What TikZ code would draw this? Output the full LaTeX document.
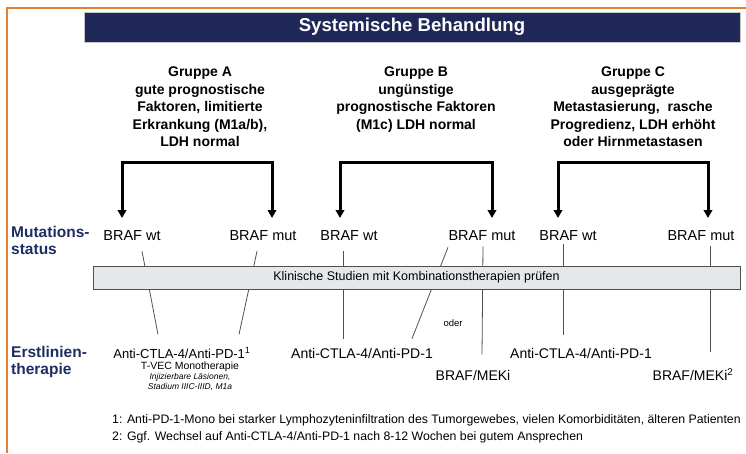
\documentclass[tikz,border=0pt]{standalone}
\usepackage{fontspec}
\setmainfont{Liberation Sans}
\usetikzlibrary{arrows.meta, positioning, calc}
\definecolor{titlebg}{RGB}{31, 40, 88}
\definecolor{frameorange}{RGB}{228, 128, 48}
\definecolor{labelblue}{RGB}{30, 44, 98}
\definecolor{studybg}{RGB}{229, 232, 234}
\definecolor{linegray}{RGB}{80, 80, 80}

\begin{document}
\begin{tikzpicture}[
        x=1pt, y=-1pt,
        group/.style={align=center, inner sep=0pt, anchor=north,
                      font=\fontsize{14}{17.5}\selectfont\bfseries},
        status/.style={inner sep=1pt, font=\fontsize{14.5}{16}\selectfont},
        therapy/.style={inner sep=1pt, font=\fontsize{14}{16}\selectfont},
        rowlabel/.style={anchor=north west, align=left, inner sep=0pt, text=labelblue,
                         font=\fontsize{15.5}{17}\selectfont\bfseries},
        branch/.style={-{Triangle[length=8pt, width=8.5pt]}, line width=3pt},
        link/.style={linegray, line width=0.8pt},
        footnote/.style={anchor=west, inner sep=0pt, font=\fontsize{12.3}{14}\selectfont},
    ]
        \useasboundingbox (0,0) rectangle (746,453);
        \draw[frameorange, line width=2.2pt] (7,453) -- (7,8) -- (746,8);

        \node[fill=titlebg, draw=gray!45, minimum width=656pt, minimum height=30pt,
              text=white, font=\fontsize{18.6}{20}\selectfont\bfseries] (title) at (412,27) {Systemische Behandlung};

        \node[group] (grpA) at (200,67) {Gruppe A\\gute prognostische\\Faktoren, limitierte\\Erkrankung (M1a/b),\\LDH normal};
        \node[group] (grpB) at (416,67) {Gruppe B\\ungünstige\\prognostische Faktoren\\(M1c) LDH normal};
        \node[group] (grpC) at (633,67) {Gruppe C\\ausgeprägte\\Metastasierung,~ rasche\\Progredienz, LDH erhöht\\oder Hirnmetastasen};

        % Verzweigungen
        \coordinate (topA) at (197,162);
        \coordinate (topB) at (416,162);
        \coordinate (topC) at (633,162);
        \coordinate (tipA1) at (122,218);
        \coordinate (tipA2) at (272,218);
        \coordinate (tipB1) at (340,218);
        \coordinate (tipB2) at (492,218);
        \coordinate (tipC1) at (558,218);
        \coordinate (tipC2) at (708,218);
        \draw[branch] (topA) -| (tipA1);
        \draw[branch] (topA) -| (tipA2);
        \draw[branch] (topB) -| (tipB1);
        \draw[branch] (topB) -| (tipB2);
        \draw[branch] (topC) -| (tipC1);
        \draw[branch] (topC) -| (tipC2);

        \node[rowlabel] (mutlabel) at (11,226) {Mutations-\\status};
        \node[rowlabel] (thlabel) at (11,346) {Erstlinien-\\therapie};

        \node[status] (awt) at (132,236) {BRAF wt};
        \node[status] (amut) at (263,236) {BRAF mut};
        \node[status] (bwt) at (349,236) {BRAF wt};
        \node[status] (bmut) at (482,236) {BRAF mut};
        \node[status] (cwt) at (568,236) {BRAF wt};
        \node[status] (cmut) at (701,236) {BRAF mut};

        \node[therapy, font=\fontsize{13}{15}\selectfont] (thA) at (182,353) {Anti-CTLA-4/Anti-PD-1\textsuperscript{1}};
        \node[align=center, inner sep=0pt, font=\fontsize{10.5}{11}\selectfont] (tvec) at (190,366.5) {T-VEC Monotherapie};
        \node[align=center, inner sep=0pt, font=\fontsize{8.5}{10}\selectfont\itshape, below=1.5pt of tvec] (tvecnote) {Injizierbare Läsionen,\\Stadium IIIC-IIID, M1a};
        \node[therapy] (thB) at (362,353) {Anti-CTLA-4/Anti-PD-1};
        \node[therapy] (mekB) at (473,375) {BRAF/MEKi};
        \node[therapy] (thC) at (581,353) {Anti-CTLA-4/Anti-PD-1};
        \node[therapy] (mekC) at (693,375) {BRAF/MEKi\textsuperscript{2}};
        \node[font=\fontsize{9.5}{11}\selectfont] (oder) at (453,323) {oder};

        \draw[link] ($(awt.south)+(10,9)$) -- ($(thA.north)+(-24,-12)$);
        \draw[link] ($(amut.south)+(-6,9)$) -- ($(thA.north)+(57,-12)$);
        \draw[link] ($(bwt.south)+(-6,9)$) -- ($(thB.north)+(-19,-8)$);
        \draw[link] ($(bmut.south)+(-34,5)$) -- ($(thB.north)+(50,-8)$);
        \draw[link] ($(bmut.south)+(1,4)$) -- ($(mekB.north)+(9,-14)$);
        \draw[link] ($(cwt.south)+(-5,2)$) -- ($(thC.north)+(-18,-12)$);
        \draw[link] ($(cmut.south)+(9,4)$) -- ($(mekC.north)+(17,-16)$);

        \node[fill=studybg, draw=linegray, line width=0.8pt, minimum width=647pt, minimum height=23pt,
              inner sep=0pt, font=\fontsize{12.5}{14}\selectfont] (study) at (416.5,277.5) {Klinische Studien mit Kombinationstherapien prüfen};

        \node[footnote] (fn1) at (112,420) {1: Anti-PD-1-Mono bei starker Lymphozyteninfiltration des Tumorgewebes, vielen Komorbiditäten, älteren Patienten};
        \node[footnote] (fn2) at (112,437) {2: Ggf. Wechsel auf Anti-CTLA-4/Anti-PD-1 nach 8-12 Wochen bei gutem Ansprechen};
    \end{tikzpicture}
\end{document}
